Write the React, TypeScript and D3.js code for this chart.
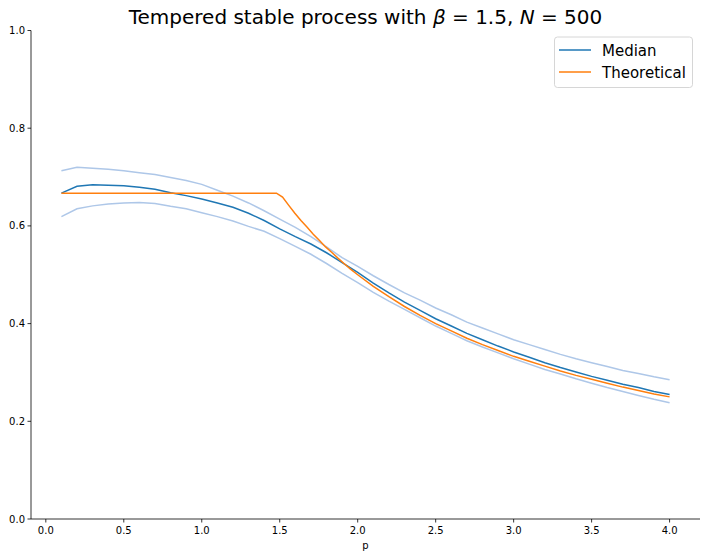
import React from "react";
import * as d3 from "d3";

// p grid used for the simulated curves
const pGrid = [
  0.1, 0.2, 0.3, 0.4, 0.5, 0.6, 0.7, 0.8, 0.9, 1.0,
  1.1, 1.2, 1.3, 1.4, 1.5, 1.6, 1.7, 1.8, 1.9, 2.0,
  2.1, 2.2, 2.3, 2.4, 2.5, 2.6, 2.7, 2.8, 2.9, 3.0,
  3.1, 3.2, 3.3, 3.4, 3.5, 3.6, 3.7, 3.8, 3.9, 4.0,
];

const medianValues = [
  0.667, 0.681, 0.684, 0.683, 0.682, 0.679, 0.675, 0.668, 0.662, 0.655,
  0.647, 0.638, 0.626, 0.611, 0.594, 0.578, 0.563, 0.545, 0.525, 0.505,
  0.483, 0.463, 0.444, 0.427, 0.41, 0.395, 0.38, 0.367, 0.354, 0.342,
  0.331, 0.32, 0.31, 0.301, 0.292, 0.284, 0.276, 0.269, 0.261, 0.255,
];

const upperValues = [
  0.713, 0.72, 0.718, 0.716, 0.713, 0.709, 0.705, 0.699, 0.693, 0.685,
  0.673, 0.661, 0.647, 0.631, 0.614, 0.597, 0.578, 0.557, 0.535, 0.517,
  0.498, 0.48, 0.463, 0.448, 0.432, 0.418, 0.403, 0.391, 0.379, 0.367,
  0.357, 0.347, 0.337, 0.328, 0.32, 0.312, 0.304, 0.298, 0.291, 0.285,
];

const lowerValues = [
  0.619, 0.635, 0.641, 0.645, 0.647, 0.648, 0.646, 0.64, 0.635, 0.627,
  0.619, 0.61, 0.599, 0.589, 0.574, 0.558, 0.542, 0.523, 0.503, 0.484,
  0.464, 0.446, 0.429, 0.412, 0.395, 0.38, 0.365, 0.352, 0.34, 0.328,
  0.317, 0.306, 0.297, 0.287, 0.278, 0.269, 0.261, 0.253, 0.245, 0.238,
];

// theoretical curve (flat, then decaying)
const theoP = [
  0.1, 1.479, 1.518, 1.558, 1.597, 1.636, 1.676, 1.715, 1.755, 1.794,
  1.833, 1.873, 1.912, 1.952, 2.0, 2.1, 2.2, 2.3, 2.4, 2.5,
  2.6, 2.7, 2.8, 2.9, 3.0, 3.1, 3.2, 3.3, 3.4, 3.5,
  3.6, 3.7, 3.8, 3.9, 4.0,
];
const theoValues = [
  0.667, 0.667, 0.659, 0.642, 0.626, 0.611, 0.597, 0.583, 0.57, 0.557,
  0.546, 0.534, 0.523, 0.512, 0.5, 0.476, 0.455, 0.435, 0.417, 0.4,
  0.385, 0.37, 0.357, 0.345, 0.333, 0.323, 0.313, 0.303, 0.294, 0.286,
  0.278, 0.27, 0.263, 0.256, 0.25,
];

const xTicks = [0, 0.5, 1, 1.5, 2, 2.5, 3, 3.5, 4];
const yTicks = [0, 0.2, 0.4, 0.6, 0.8, 1.0];

const W = 706;
const H = 557;
const left = 31;
const right = 700;
const top = 30.5;
const bottom = 519;

const App: React.FC = () => {
  const x = d3.scaleLinear().domain([-0.095, 4.195]).range([left, right]);
  const y = d3.scaleLinear().domain([0, 1]).range([bottom, top]);

  const line = d3
    .line<[number, number]>()
    .x((d) => x(d[0]))
    .y((d) => y(d[1]));

  const zipped = (ps: number[], vs: number[]) =>
    ps.map((p, i) => [p, vs[i]] as [number, number]);

  const font = "DejaVu Sans, sans-serif";

  return (
    <svg
      width={W}
      height={H}
      style={{ position: "absolute", left: 0, top: 0, background: "#fff" }}
      fontFamily={font}
    >
      <rect width={W} height={H} fill="#fff" />

      {/* bands and curves */}
      <path d={line(zipped(pGrid, upperValues))!} fill="none" stroke="#aec7e8" strokeWidth={1.5} />
      <path d={line(zipped(pGrid, lowerValues))!} fill="none" stroke="#aec7e8" strokeWidth={1.5} />
      <path d={line(zipped(pGrid, medianValues))!} fill="none" stroke="#1f77b4" strokeWidth={1.5} />
      <path d={line(zipped(theoP, theoValues))!} fill="none" stroke="#ff7f0e" strokeWidth={1.5} />

      {/* spines */}
      <line x1={left} x2={left} y1={top} y2={bottom} stroke="#000" strokeWidth={0.8} />
      <line x1={left} x2={right} y1={bottom} y2={bottom} stroke="#000" strokeWidth={0.8} />

      {/* x axis */}
      {xTicks.map((t) => (
        <g key={"x" + t}>
          <line x1={x(t)} x2={x(t)} y1={bottom} y2={bottom + 3.5} stroke="#000" strokeWidth={0.8} />
          <text x={x(t)} y={bottom + 15} fontSize={10} textAnchor="middle">
            {t.toFixed(1)}
          </text>
        </g>
      ))}
      <text x={(left + right) / 2} y={549} fontSize={10} textAnchor="middle">
        p
      </text>

      {/* y axis */}
      {yTicks.map((t) => (
        <g key={"y" + t}>
          <line x1={left - 3.5} x2={left} y1={y(t)} y2={y(t)} stroke="#000" strokeWidth={0.8} />
          <text x={left - 6} y={y(t) + 3.5} fontSize={10} textAnchor="end">
            {t.toFixed(1)}
          </text>
        </g>
      ))}

      {/* title */}
      <text x={(left + right) / 2} y={24} fontSize={20} textAnchor="middle">
        <tspan>Tempered stable process with </tspan>
        <tspan fontStyle="italic">β</tspan>
        <tspan> = 1.5, </tspan>
        <tspan fontStyle="italic">N</tspan>
        <tspan> = 500</tspan>
      </text>

      {/* legend */}
      <g>
        <rect x={554.5} y={37} width={138} height={50.5} rx={3} fill="#fff" fillOpacity={0.8} stroke="#cccccc" strokeWidth={0.8} />
        <line x1={559} x2={591} y1={50} y2={50} stroke="#1f77b4" strokeWidth={1.5} />
        <text x={602} y={55.5} fontSize={15}>Median</text>
        <line x1={559} x2={591} y1={72} y2={72} stroke="#ff7f0e" strokeWidth={1.5} />
        <text x={602} y={77.5} fontSize={15}>Theoretical</text>
      </g>
    </svg>
  );
};

export default App;
